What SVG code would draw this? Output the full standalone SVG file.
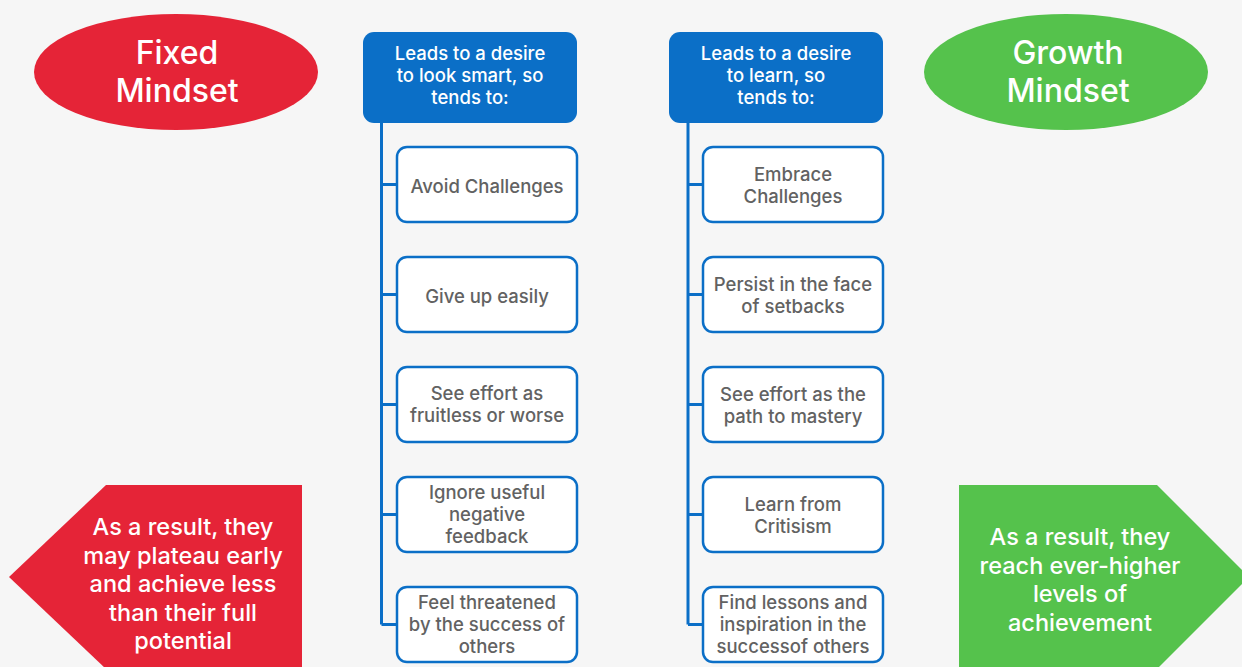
<svg xmlns="http://www.w3.org/2000/svg" width="1242" height="667" viewBox="0 0 1242 667">
  <style>
    text { font-family: Inter, "Open Sans", "Liberation Sans", sans-serif; text-anchor: middle; }
    .title { fill: #ffffff; font-size: 32px; font-weight: 500; }
    .head { fill: #0b6fc7; }
    .headtxt { fill: #ffffff; font-size: 18.5px; font-weight: 500; }
    .item { fill: #ffffff; stroke: #0b6fc7; stroke-width: 2.5; }
    .itemtxt { fill: #626262; font-size: 18.5px; font-weight: 500; }
    .result { fill: #ffffff; font-size: 23.5px; font-weight: 500; }
    .wire { fill: none; stroke: #0b6fc7; stroke-width: 3; }
  </style>

  <!-- page background -->
  <rect x="0" y="0" width="1242" height="667" fill="#f6f6f6"/>

  <!-- title ellipses -->
  <g id="fixed-title">
    <ellipse cx="176" cy="72" rx="142" ry="58" fill="#e52437"/>
    <text class="title" x="177" y="64">Fixed</text>
    <text class="title" x="177" y="102">Mindset</text>
  </g>
  <g id="growth-title">
    <ellipse cx="1066" cy="72" rx="142" ry="58" fill="#55c24c"/>
    <text class="title" x="1068" y="64">Growth</text>
    <text class="title" x="1068" y="102">Mindset</text>
  </g>

  <!-- connectors: spine from each header with a tick to every item -->
  <g id="connectors">
    <path class="wire" d="M381.5,122 V624.5 M381.5,184.5 H397 M381.5,294.5 H397 M381.5,404.5 H397 M381.5,514.5 H397 M381.5,624.5 H397"/>
    <path class="wire" d="M688,122 V624.5 M688,184.5 H703 M688,294.5 H703 M688,404.5 H703 M688,514.5 H703 M688,624.5 H703"/>
  </g>

  <!-- fixed mindset column -->
  <g id="fixed-head">
    <rect class="head" x="363" y="32" width="214" height="91" rx="11"/>
    <text class="headtxt" x="470" y="60">Leads to a desire</text>
    <text class="headtxt" x="470" y="82">to look smart, so</text>
    <text class="headtxt" x="470" y="104">tends to:</text>
  </g>
  <g id="fixed-1">
    <rect class="item" x="397" y="147" width="180" height="75" rx="10"/>
    <text class="itemtxt" x="487" y="193">Avoid Challenges</text>
  </g>
  <g id="fixed-2">
    <rect class="item" x="397" y="257" width="180" height="75" rx="10"/>
    <text class="itemtxt" x="487" y="303">Give up easily</text>
  </g>
  <g id="fixed-3">
    <rect class="item" x="397" y="367" width="180" height="75" rx="10"/>
    <text class="itemtxt" x="487" y="400">See effort as</text>
    <text class="itemtxt" x="487" y="422">fruitless or worse</text>
  </g>
  <g id="fixed-4">
    <rect class="item" x="397" y="477" width="180" height="75" rx="10"/>
    <text class="itemtxt" x="487" y="499">Ignore useful</text>
    <text class="itemtxt" x="487" y="521">negative</text>
    <text class="itemtxt" x="487" y="543">feedback</text>
  </g>
  <g id="fixed-5">
    <rect class="item" x="397" y="587" width="180" height="75" rx="10"/>
    <text class="itemtxt" x="487" y="609">Feel threatened</text>
    <text class="itemtxt" x="487" y="631">by the success of</text>
    <text class="itemtxt" x="487" y="653">others</text>
  </g>

  <!-- growth mindset column -->
  <g id="growth-head">
    <rect class="head" x="669" y="32" width="214" height="91" rx="11"/>
    <text class="headtxt" x="776" y="60">Leads to a desire</text>
    <text class="headtxt" x="776" y="82">to learn, so</text>
    <text class="headtxt" x="776" y="104">tends to:</text>
  </g>
  <g id="growth-1">
    <rect class="item" x="703" y="147" width="180" height="75" rx="10"/>
    <text class="itemtxt" x="793" y="181">Embrace</text>
    <text class="itemtxt" x="793" y="203">Challenges</text>
  </g>
  <g id="growth-2">
    <rect class="item" x="703" y="257" width="180" height="75" rx="10"/>
    <text class="itemtxt" x="793" y="291">Persist in the face</text>
    <text class="itemtxt" x="793" y="313">of setbacks</text>
  </g>
  <g id="growth-3">
    <rect class="item" x="703" y="367" width="180" height="75" rx="10"/>
    <text class="itemtxt" x="793" y="401">See effort as the</text>
    <text class="itemtxt" x="793" y="423">path to mastery</text>
  </g>
  <g id="growth-4">
    <rect class="item" x="703" y="477" width="180" height="75" rx="10"/>
    <text class="itemtxt" x="793" y="511">Learn from</text>
    <text class="itemtxt" x="793" y="533">Critisism</text>
  </g>
  <g id="growth-5">
    <rect class="item" x="703" y="587" width="180" height="75" rx="10"/>
    <text class="itemtxt" x="793" y="609">Find lessons and</text>
    <text class="itemtxt" x="793" y="631">inspiration in the</text>
    <text class="itemtxt" x="793" y="653">successof others</text>
  </g>

  <!-- outcome arrows -->
  <g id="fixed-result">
    <polygon points="106,485 302,485 302,669 106,669 9,577" fill="#e52437"/>
    <text class="result" x="183" y="535">As a result, they</text>
    <text class="result" x="183" y="563.5">may plateau early</text>
    <text class="result" x="183" y="592">and achieve less</text>
    <text class="result" x="183" y="620.5">than their full</text>
    <text class="result" x="183" y="649">potential</text>
  </g>
  <g id="growth-result">
    <polygon points="959,485 1157,485 1249,577 1157,669 959,669" fill="#55c24c"/>
    <text class="result" x="1080" y="545">As a result, they</text>
    <text class="result" x="1080" y="573.5">reach ever-higher</text>
    <text class="result" x="1080" y="602">levels of</text>
    <text class="result" x="1080" y="630.5">achievement</text>
  </g>
</svg>
